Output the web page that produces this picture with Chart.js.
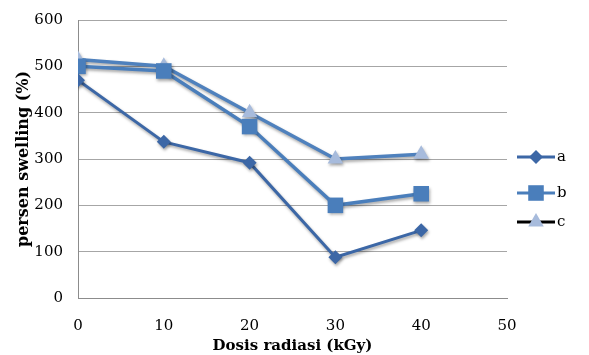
<!DOCTYPE html>
<html>
<head>
<meta charset="utf-8">
<script src="https://cdn.jsdelivr.net/npm/chart.js@4.4.1/dist/chart.umd.min.js"></script>
<style>
  html, body { margin: 0; padding: 0; background: #fff; }
  #wrap { width: 589px; height: 355px; }
</style>
</head>
<body>
<div id="wrap"><canvas id="chart"></canvas></div>
<script>
// values
const doses = [0, 10, 20, 30, 40];
const seriesA = [470, 337, 292, 88, 146];
const seriesB = [500, 490, 370, 200, 225];
const seriesC = [515, 500, 400, 300, 310];
const seriesNames = ['a', 'b', 'c'];
const xTicks = [0, 10, 20, 30, 40, 50];
const yTicks = [0, 100, 200, 300, 400, 500, 600];

const serif = "'DejaVu Serif', 'Liberation Serif', serif";

function toPoints(values) {
    return doses.map((d, i) => ({ x: d, y: values[i] }));
}

// soft drop shadow under the lines, like the office chart
const shadowPlugin = {
    id: 'shadow',
    beforeDatasetDraw(chart) {
        const ctx = chart.ctx;
        ctx.save();
        ctx.shadowColor = 'rgba(0,0,0,0.35)';
        ctx.shadowBlur = 3;
        ctx.shadowOffsetX = 1;
        ctx.shadowOffsetY = 2;
    },
    afterDatasetDraw(chart) {
        chart.ctx.restore();
    }
};

// legend on the right: short line with the marker in the middle
const sideLegend = {
    id: 'sideLegend',
    afterDraw(chart) {
        const ctx = chart.ctx;
        const x0 = 517, x1 = 555;
        const rows = [157, 193, 222];
        chart.data.datasets.forEach((ds, i) => {
            const y = rows[i];
            ctx.save();
            ctx.strokeStyle = ds.legendLine || ds.borderColor;
            ctx.lineWidth = 3;
            ctx.beginPath();
            ctx.moveTo(x0, y);
            ctx.lineTo(x1, y);
            ctx.stroke();
            const cx = (x0 + x1) / 2;
            const r = ds.pointRadius;
            ctx.fillStyle = ds.pointBackgroundColor;
            ctx.beginPath();
            if (ds.pointStyle === 'rectRot') {
                ctx.moveTo(cx, y - r); ctx.lineTo(cx + r, y);
                ctx.lineTo(cx, y + r); ctx.lineTo(cx - r, y);
            } else if (ds.pointStyle === 'rect') {
                const s = r * Math.SQRT1_2;
                ctx.rect(cx - s, y - s, 2 * s, 2 * s);
            } else {
                ctx.moveTo(cx, y - r);
                ctx.lineTo(cx + r * 0.866, y + r * 0.5);
                ctx.lineTo(cx - r * 0.866, y + r * 0.5);
            }
            ctx.closePath();
            ctx.fill();
            ctx.fillStyle = '#000';
            ctx.font = '15px ' + serif;
            ctx.textBaseline = 'middle';
            ctx.textAlign = 'left';
            ctx.fillText(seriesNames[i], x1 + 2, y);
            ctx.restore();
        });
    }
};

new Chart(document.getElementById('chart'), {
    type: 'line',
    data: {
        datasets: [
            {
                label: seriesNames[0],
                data: toPoints(seriesA),
                borderColor: '#3c67a6',
                borderWidth: 3,
                pointStyle: 'rectRot',
                pointRadius: 7,
                pointBackgroundColor: '#3c67a6',
                pointBorderWidth: 0
            },
            {
                label: seriesNames[1],
                data: toPoints(seriesB),
                borderColor: '#4a7ebb',
                borderWidth: 3.5,
                pointStyle: 'rect',
                pointRadius: 11,
                pointBackgroundColor: '#4a7ebb',
                pointBorderWidth: 0
            },
            {
                label: seriesNames[2],
                data: toPoints(seriesC),
                borderColor: '#4f81bd',
                legendLine: '#000',
                borderWidth: 3.5,
                pointStyle: 'triangle',
                pointRadius: 9,
                pointBackgroundColor: '#a7bbdc',
                pointBorderWidth: 0
            }
        ]
    },
    options: {
        responsive: true,
        maintainAspectRatio: false,
        animation: false,
        layout: { padding: { top: 20, right: 82, bottom: 0, left: 14 } },
        plugins: {
            legend: { display: false },
            tooltip: { enabled: false }
        },
        elements: { line: { tension: 0 } },
        scales: {
            x: {
                type: 'linear',
                min: 0,
                max: 50,
                afterBuildTicks: axis => { axis.ticks = xTicks.map(v => ({ value: v })); },
                afterFit: axis => { axis.height = 57; },
                grid: { display: false, drawTicks: false, tickLength: 0 },
                border: { color: '#8c8c8c', width: 1 },
                ticks: { color: '#000', font: { family: serif, size: 15 }, padding: 19, maxRotation: 0 },
                title: {
                    display: true,
                    text: 'Dosis radiasi (kGy)',
                    color: '#000',
                    font: { family: serif, size: 15, weight: 'bold' },
                    padding: { top: 0, bottom: 0 }
                }
            },
            y: {
                min: 0,
                max: 600,
                afterBuildTicks: axis => { axis.ticks = yTicks.map(v => ({ value: v })); },
                afterFit: axis => { axis.width = 64; axis.paddingTop = 0; },
                grid: { color: '#a6a6a6', drawTicks: false, tickLength: 0 },
                border: { color: '#8c8c8c', width: 1 },
                ticks: { color: '#000', font: { family: serif, size: 15 }, padding: 15 },
                title: {
                    display: true,
                    text: 'persen swelling (%)',
                    color: '#000',
                    font: { family: serif, size: 16, weight: 'bold' },
                    padding: { top: 0, bottom: 0 }
                }
            }
        }
    },
    plugins: [shadowPlugin, sideLegend]
});
</script>
</body>
</html>
